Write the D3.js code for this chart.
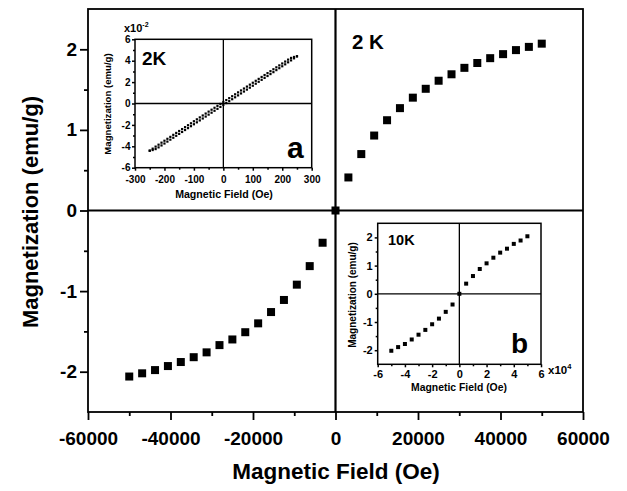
<!DOCTYPE html>
<html>
<head>
<meta charset="utf-8">
<script src="https://cdn.jsdelivr.net/npm/d3@7/dist/d3.min.js"></script>
<style>
  body { margin: 0; background: #fff; }
  svg { display: block; }
  text { font-family: Arial, "Liberation Sans", sans-serif; font-weight: bold; fill: #000; }
</style>
</head>
<body>
<svg id="chart" width="627" height="491"></svg>
<script>
// ---- Main panel: M(H) at 2 K ----
const mainField = [-50000, -46875, -43750, -40625, -37500, -34375, -31250, -28125,
  -25000, -21875, -18750, -15625, -12500, -9375, -6250, -3125, 0,
  3125, 6250, 9375, 12500, 15625, 18750, 21875, 25000,
  28125, 31250, 34375, 37500, 40625, 43750, 46875, 50000];
const mainMag = [-2.06, -2.02, -1.98, -1.93, -1.88, -1.82, -1.76, -1.67,
  -1.60, -1.51, -1.40, -1.26, -1.11, -0.92, -0.69, -0.40, 0,
  0.41, 0.70, 0.93, 1.12, 1.27, 1.40, 1.51, 1.61,
  1.69, 1.77, 1.83, 1.89, 1.94, 1.99, 2.03, 2.07];
const mainXTicks = [-60000, -40000, -20000, 0, 20000, 40000, 60000];
const mainYTicks = [-2, -1, 0, 1, 2];

// ---- Inset a: low-field loop at 2 K (magnetization in units of 1e-2 emu/g) ----
const lowField = [-250, -240, -230, -220, -210, -200, -190, -180, -170, -160,
  -150, -140, -130, -120, -110, -100, -90, -80, -70, -60,
  -50, -40, -30, -20, -10, 0, 10, 20, 30, 40,
  50, 60, 70, 80, 90, 100, 110, 120, 130, 140,
  150, 160, 170, 180, 190, 200, 210, 220, 230, 240, 250];
const lowMagUp = [-4.40, -4.22, -4.03, -3.85, -3.66, -3.48, -3.30, -3.12, -2.93, -2.75,
  -2.57, -2.39, -2.21, -2.03, -1.85, -1.66, -1.48, -1.30, -1.12, -0.94,
  -0.76, -0.58, -0.40, -0.22, -0.04, 0.14, 0.32, 0.50, 0.68, 0.86,
  1.04, 1.22, 1.40, 1.58, 1.76, 1.94, 2.12, 2.30, 2.48, 2.66,
  2.84, 3.02, 3.20, 3.38, 3.56, 3.74, 3.92, 4.10, 4.26, 4.35, 4.42];
const lowMagDown = [-4.42, -4.35, -4.26, -4.10, -3.92, -3.74, -3.56, -3.38, -3.20, -3.02,
  -2.84, -2.66, -2.48, -2.30, -2.12, -1.94, -1.76, -1.58, -1.40, -1.22,
  -1.04, -0.86, -0.68, -0.50, -0.32, -0.14, 0.04, 0.22, 0.40, 0.58,
  0.76, 0.94, 1.12, 1.30, 1.48, 1.66, 1.85, 2.03, 2.21, 2.39,
  2.57, 2.75, 2.93, 3.12, 3.30, 3.48, 3.66, 3.85, 4.03, 4.22, 4.40];
const aXTicks = [-300, -200, -100, 0, 100, 200, 300];
const aYTicks = [-6, -4, -2, 0, 2, 4, 6];

// ---- Inset b: M(H) at 10 K (field in units of 1e4 Oe) ----
const fieldB = [-5, -4.5, -4, -3.5, -3, -2.5, -2, -1.5, -1, -0.5, 0,
  0.5, 1, 1.5, 2, 2.5, 3, 3.5, 4, 4.5, 5];
const magB = [-2.02, -1.89, -1.78, -1.62, -1.45, -1.28, -1.08, -0.88, -0.64, -0.38, 0,
  0.36, 0.63, 0.88, 1.08, 1.28, 1.46, 1.60, 1.77, 1.89, 2.04];
const bXTicks = [-6, -4, -2, 0, 2, 4, 6];
const bYTicks = [-2, -1, 0, 1, 2];

const svg = d3.select("#chart");
const fmt = d => String(d);

function minorBetween(ticks, n) {
  const out = [];
  for (let i = 0; i < ticks.length - 1; i++) {
    const step = (ticks[i + 1] - ticks[i]) / n;
    for (let k = 1; k < n; k++) out.push(ticks[i] + k * step);
  }
  return out;
}

// Draws a framed panel with axes, zero lines and tick marks; returns its scales.
function panel(opt) {
  const x = d3.scaleLinear().domain(opt.xDomain).range(opt.xRange);
  const y = d3.scaleLinear().domain(opt.yDomain).range(opt.yRange);
  const g = svg.append("g");
  const [x0, x1] = opt.xRange, [y1, y0] = opt.yRange;

  g.append("rect").attr("x", x0).attr("y", y0).attr("width", x1 - x0).attr("height", y1 - y0)
    .attr("fill", "#fff");

  const ax = g.append("g").attr("transform", `translate(0,${y1})`)
    .call(d3.axisBottom(x).tickValues(opt.xTicks).tickSize(opt.major).tickSizeOuter(0)
      .tickPadding(opt.xPad).tickFormat(fmt));
  ax.selectAll("text").style("font-size", opt.tickFont + "px");
  g.append("g").attr("transform", `translate(0,${y1})`)
    .call(d3.axisBottom(x).tickValues(minorBetween(opt.xTicks, opt.xMinor)).tickSize(opt.minor)
      .tickSizeOuter(0).tickFormat(""));

  const ay = g.append("g").attr("transform", `translate(${x0},0)`)
    .call(d3.axisLeft(y).tickValues(opt.yTicks).tickSize(opt.major).tickSizeOuter(0)
      .tickPadding(opt.yPad).tickFormat(fmt));
  ay.selectAll("text").style("font-size", opt.tickFont + "px");
  g.append("g").attr("transform", `translate(${x0},0)`)
    .call(d3.axisLeft(y).tickValues(minorBetween(opt.yTicks, opt.yMinor)).tickSize(opt.minor)
      .tickSizeOuter(0).tickFormat(""));

  g.selectAll(".domain").remove();
  g.selectAll(".tick line").attr("stroke", "#000").attr("stroke-width", opt.stroke);
  g.selectAll(".tick text").attr("fill", "#000");

  g.append("line").attr("x1", x(0)).attr("x2", x(0)).attr("y1", y0).attr("y2", y1)
    .attr("stroke", "#000").attr("stroke-width", opt.zero);
  g.append("line").attr("x1", x0).attr("x2", x1).attr("y1", y(0)).attr("y2", y(0))
    .attr("stroke", "#000").attr("stroke-width", opt.zero);

  g.append("rect").attr("x", x0).attr("y", y0).attr("width", x1 - x0).attr("height", y1 - y0)
    .attr("fill", "none").attr("stroke", "#000").attr("stroke-width", opt.stroke);

  return { x, y, g };
}

function squares(p, xs, ys, size) {
  p.g.append("g").selectAll("rect").data(xs).join("rect")
    .attr("x", (d, i) => p.x(d) - size / 2)
    .attr("y", (d, i) => p.y(ys[i]) - size / 2)
    .attr("width", size).attr("height", size).attr("fill", "#000");
}

// ---- main ----
const main = panel({
  xDomain: [-60000, 60000], xRange: [88, 583],
  yDomain: [-2.5, 2.5], yRange: [412, 9],
  xTicks: mainXTicks, yTicks: mainYTicks, xMinor: 2, yMinor: 2,
  major: 8, minor: 4, xPad: 12, yPad: 3, tickFont: 19, stroke: 1.8, zero: 2.2
});
squares(main, mainField, mainMag, 8);
svg.append("text").attr("x", 352).attr("y", 49).style("font-size", "20.5px").text("2 K");
svg.append("text").attr("x", 336).attr("y", 479).attr("text-anchor", "middle")
  .style("font-size", "22.5px").text("Magnetic Field (Oe)");
svg.append("text").attr("transform", "translate(38,212) rotate(-90)").attr("text-anchor", "middle")
  .style("font-size", "22px").text("Magnetization (emu/g)");

// ---- inset a ----
const pa = panel({
  xDomain: [-300, 300], xRange: [135, 311.7],
  yDomain: [-6, 6], yRange: [167.7, 39.3],
  xTicks: aXTicks, yTicks: aYTicks, xMinor: 2, yMinor: 2,
  major: 3, minor: 2, xPad: 5, yPad: 1.5, tickFont: 10, stroke: 1.5, zero: 1.3
});
squares(pa, lowField, lowMagUp, 2.2);
squares(pa, lowField, lowMagDown, 2.2);
svg.append("text").attr("x", 142).attr("y", 65).style("font-size", "19px").text("2K");
svg.append("text").attr("x", 287).attr("y", 158).style("font-size", "30px").text("a");
svg.append("text").attr("x", 124).attr("y", 31.5).style("font-size", "11px")
  .text("x10").append("tspan").attr("dy", -5).style("font-size", "7px").text("-2");
svg.append("text").attr("x", 224).attr("y", 198).attr("text-anchor", "middle")
  .style("font-size", "10.6px").text("Magnetic Field (Oe)");
svg.append("text").attr("transform", "translate(111,104) rotate(-90)").attr("text-anchor", "middle")
  .style("font-size", "9.6px").text("Magnetization (emu/g)");

// ---- inset b ----
const pb = panel({
  xDomain: [-6, 6], xRange: [377.7, 541],
  yDomain: [-2.5, 2.5], yRange: [364.3, 223.3],
  xTicks: bXTicks, yTicks: bYTicks, xMinor: 2, yMinor: 2,
  major: 3, minor: 2, xPad: 3, yPad: 2, tickFont: 11, stroke: 1.5, zero: 1.3
});
squares(pb, fieldB, magB, 4);
svg.append("text").attr("x", 388).attr("y", 245).style("font-size", "14.5px").text("10K");
svg.append("text").attr("x", 511).attr("y", 353).style("font-size", "28px").text("b");
svg.append("text").attr("x", 548).attr("y", 374).style("font-size", "11.5px")
  .text("x10").append("tspan").attr("dy", -5).style("font-size", "7.5px").text("4");
svg.append("text").attr("x", 459).attr("y", 391).attr("text-anchor", "middle")
  .style("font-size", "10.4px").text("Magnetic Field (Oe)");
svg.append("text").attr("transform", "translate(356,295) rotate(-90)").attr("text-anchor", "middle")
  .style("font-size", "10px").text("Magnetization (emu/g)");
</script>
</body>
</html>
